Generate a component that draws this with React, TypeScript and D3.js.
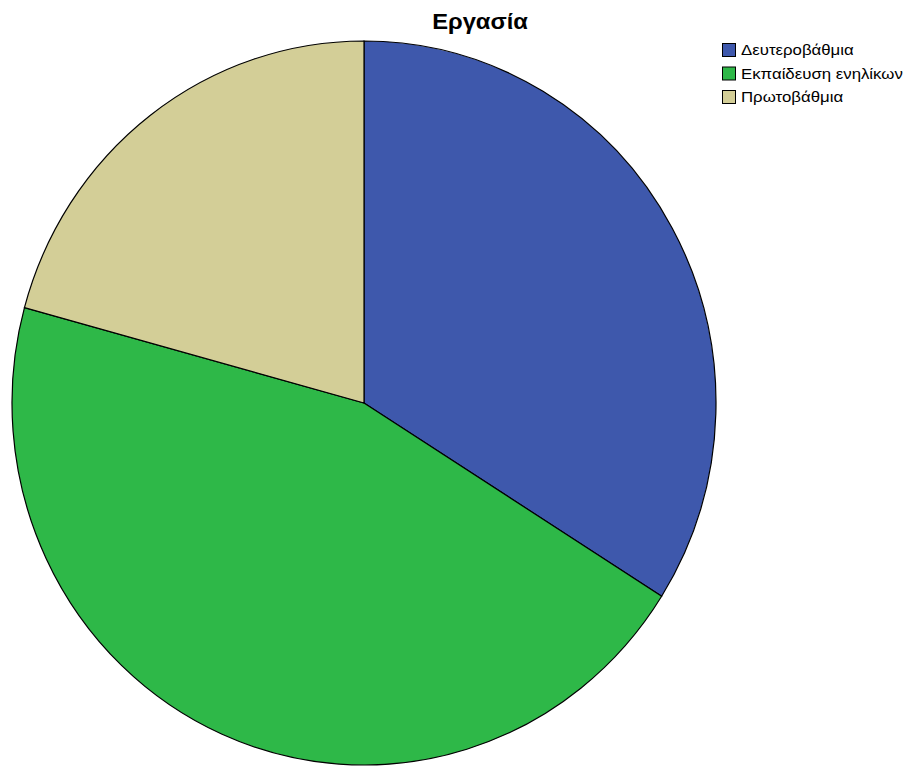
import React from "react";
import * as d3 from "d3";

const categories = ["Δευτεροβάθμια", "Εκπαίδευση ενηλίκων", "Πρωτοβάθμια"];
const values = [18, 24, 11];
const colors = ["#3E58AC", "#2EB848", "#D3CE97"];
const title = "Εργασία";

export default function App() {
  const W = 905, H = 767;
  const cx = 364, cy = 403, rx = 352, ry = 362;
  const pie = d3.pie<number>().sort(null).value((d) => d);
  const arcs = pie(values);
  const arc = d3.arc<d3.PieArcDatum<number>>().innerRadius(0).outerRadius(ry);
  return (
    <svg width={W} height={H} style={{ position: "absolute", left: 0, top: 0 }}>
      <rect width={W} height={H} fill="#fff" />
      <text transform="translate(480,29) scale(1.08,1)" textAnchor="middle" fontFamily="Liberation Sans, Arial, sans-serif" fontWeight="bold" fontSize={22} fill="#000">{title}</text>
      <g transform={`translate(${cx},${cy}) scale(${rx / ry},1)`}>
        {arcs.map((a, i) => (
          <path key={i} d={arc(a) || ""} fill={colors[i]} stroke="#000" strokeWidth={1.2} vectorEffect="non-scaling-stroke" />
        ))}
      </g>
      <g fontFamily="Liberation Sans, Arial, sans-serif" fontSize={14} fill="#000">
        {categories.map((c, i) => (
          <g key={c} transform={`translate(722,${43 + i * 23.5})`}>
            <rect x={0.5} y={0.5} width={13} height={13} fill={colors[i]} stroke="#000" strokeWidth={1} />
            <text transform="translate(19,12) scale(1.2,1)">{c}</text>
          </g>
        ))}
      </g>
    </svg>
  );
}
